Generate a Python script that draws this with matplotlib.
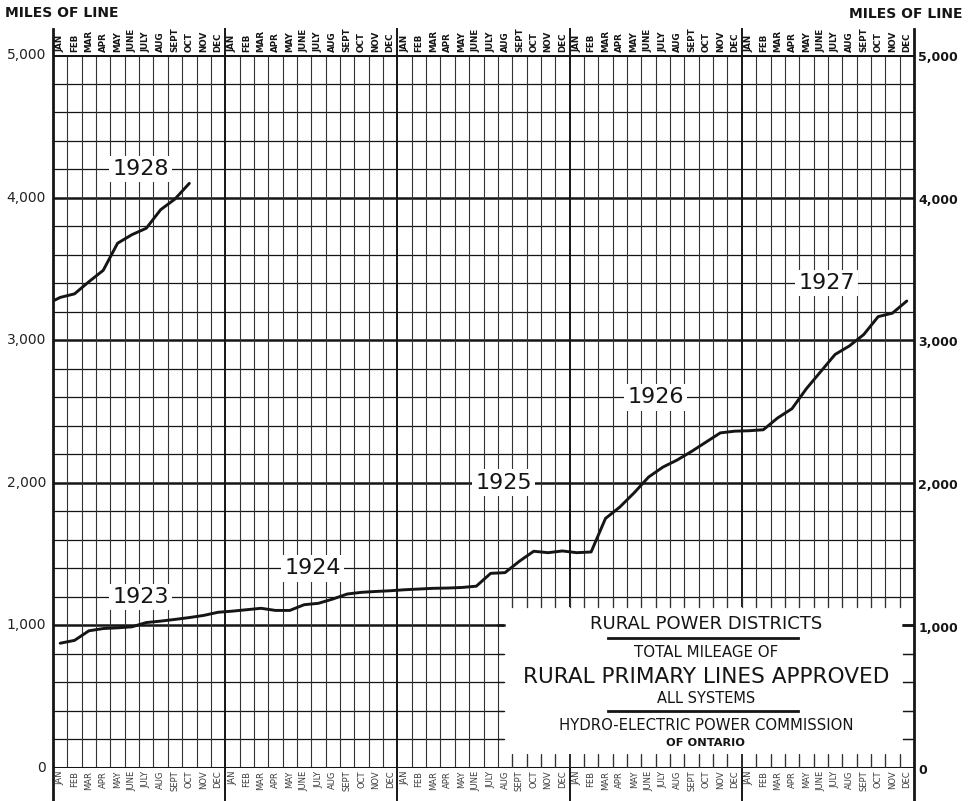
import numpy as np
import matplotlib
matplotlib.use("Agg")
import matplotlib.pyplot as plt
from matplotlib.patches import Rectangle

plt.rcParams['font.family'] = ['DejaVu Sans']

# ---- data -------------------------------------------------------------
years = ["1923", "1924", "1925", "1926", "1927"]
months = ["JAN", "FEB", "MAR", "APR", "MAY", "JUNE",
          "JULY", "AUG", "SEPT", "OCT", "NOV", "DEC"]

# cumulative miles approved, one value per month, Jan 1923 .. Dec 1927
miles_1923 = [875, 895, 962, 978, 983, 990, 1020, 1030, 1042, 1055, 1070, 1092]
miles_1924 = [1100, 1110, 1120, 1105, 1105, 1145, 1155, 1185, 1220, 1232, 1238, 1243]
miles_1925 = [1250, 1255, 1260, 1262, 1266, 1275, 1365, 1370, 1450, 1520, 1510, 1522]
miles_1926 = [1510, 1515, 1750, 1830, 1930, 2040, 2110, 2160, 2220, 2285, 2350, 2362]
miles_1927 = [2365, 2372, 2455, 2520, 2660, 2780, 2900, 2960, 3040, 3165, 3190, 3275]
# 1928, Jan .. Oct (drawn again from the left edge)
miles_1928 = [3300, 3325, 3410, 3490, 3680, 3740, 3785, 3915, 3990, 4100]

y_ticks = [0, 1000, 2000, 3000, 4000, 5000]
y_tick_labels = ["0", "1,000", "2,000", "3,000", "4,000", "5,000"]

# year label placement (month index, miles)
year_labels = ["1923", "1924", "1925", "1926", "1927", "1928"]
year_label_pos = [(6.1, 1200), (18.1, 1400), (31.4, 2000), (42.0, 2600),
                  (53.9, 3400), (6.1, 4200)]

# ---- figure -----------------------------------------------------------
W, H = 971, 801
fig = plt.figure(figsize=(W / 100, H / 100), dpi=100)
ax = fig.add_axes([53 / W, (H - 768) / H, (914 - 53) / W, (768 - 55) / H])

n_months = 12 * len(years)
ax.set_xlim(0, n_months)
ax.set_ylim(0, 5000)
ax.set_xticks([])
ax.set_yticks([])
for s in ax.spines.values():
    s.set_visible(False)

ink = "#151515"

# horizontal grid: every 200 miles, heavier every 1000
for v in range(200, 5000, 200):
    major = v % 1000 == 0
    ax.axhline(v, color=ink, lw=1.8 if major else 0.9, zorder=1)
ax.axhline(0, color=ink, lw=2.2, zorder=2)
ax.axhline(5000, color=ink, lw=2.2, zorder=2)

# vertical grid: every month, heavier at each year boundary
for m in range(1, n_months):
    if m % 12:
        ax.axvline(m, color="#333333", lw=0.8, zorder=1)

# year boundaries and frame sides run out through the month labels
for m in range(0, n_months + 1, 12):
    lw = 2.0 if m in (0, n_months) else 1.4
    ax.plot([m, m], [-0.045, 1.037], color=ink, lw=lw, clip_on=False,
            transform=ax.get_xaxis_transform(), zorder=2)

# month labels above and below the grid
for i in range(n_months):
    lab = months[i % 12]
    x = i + 0.5
    ax.annotate(lab, (x, 1.0), xycoords=("data", "axes fraction"),
                xytext=(0, 2), textcoords="offset points",
                rotation=90, ha="center", va="bottom", fontsize=6.3,
                fontweight="bold", color=ink)
    ax.annotate(lab, (x, 0.0), xycoords=("data", "axes fraction"),
                xytext=(0, -2), textcoords="offset points",
                rotation=90, ha="center", va="top", fontsize=6.0,
                color="#3a3a3a")

# y axis labels, both sides
for v, lab in zip(y_ticks, y_tick_labels):
    ax.annotate(lab, (0, v), xycoords="data", xytext=(-5, 0),
                textcoords="offset points", ha="right", va="center",
                fontsize=10, color="#222222")
    ax.annotate(lab, (n_months, v), xycoords="data", xytext=(3, -2),
                textcoords="offset points", ha="left", va="center",
                fontsize=9, fontweight="bold", color=ink)

fig.text(5 / W, 1 - 13 / H, "MILES OF LINE", fontsize=10, fontweight="bold",
         ha="left", va="center", color=ink)
fig.text(962 / W, 1 - 14 / H, "MILES OF LINE", fontsize=10, fontweight="bold",
         ha="right", va="center", color=ink)

# ---- curves -----------------------------------------------------------
main = miles_1923 + miles_1924 + miles_1925 + miles_1926 + miles_1927
xm = np.arange(len(main)) + 0.5
ax.plot(xm, main, color=ink, lw=2.1, zorder=5, solid_capstyle="round")

x28 = np.concatenate([[0], np.arange(len(miles_1928)) + 0.5])
y28 = [main[-1]] + miles_1928
ax.plot(x28, y28, color=ink, lw=2.1, zorder=5, solid_capstyle="round")

for lab, (x, y) in zip(year_labels, year_label_pos):
    ax.text(x, y, lab, fontsize=16, ha="center", va="center", color=ink,
            zorder=6,
            bbox=dict(boxstyle="square,pad=0.15", fc="white", ec="none"))

# ---- title panel --------------------------------------------------------
ax.add_patch(Rectangle((31.45, 95), 59.2 - 31.45, 1130 - 95, fc="white",
                       ec="none", zorder=4))
# tick stubs left along the panel's edges
for m in range(32, 60):
    ax.plot([m, m], [0, 90], color="#333333", lw=1.3 if m % 12 == 0 else 0.9,
            zorder=4)
    ax.plot([m, m], [1130, 1200], color="#333333", lw=0.9, zorder=4)
for v in range(200, 1200, 200):
    ax.plot([59.2, 60], [v, v], color=ink, lw=1.8 if v == 1000 else 0.9, zorder=4)
    ax.plot([31.0, 31.45], [v, v], color=ink, lw=1.8 if v == 1000 else 0.9, zorder=4)

cx = 45.5
title_lines = [
    ("RURAL POWER DISTRICTS", 1010, 13, "normal"),
    ("TOTAL MILEAGE OF", 808, 10.8, "normal"),
    ("RURAL PRIMARY LINES APPROVED", 638, 15.6, "normal"),
    ("ALL SYSTEMS", 485, 10.5, "normal"),
    ("HYDRO-ELECTRIC POWER COMMISSION", 300, 10.7, "normal"),
    ("OF ONTARIO", 175, 8.2, "bold"),
]
for txt, y, fs, fw in title_lines:
    ax.text(cx, y, txt, fontsize=fs, fontweight=fw, ha="center", va="center",
            color=ink, zorder=6)
for y in (910, 400):
    ax.plot([38.7, 51.9], [y, y], color=ink, lw=2.0, zorder=6)

fig.savefig("out.png", dpi=100, facecolor="white")
